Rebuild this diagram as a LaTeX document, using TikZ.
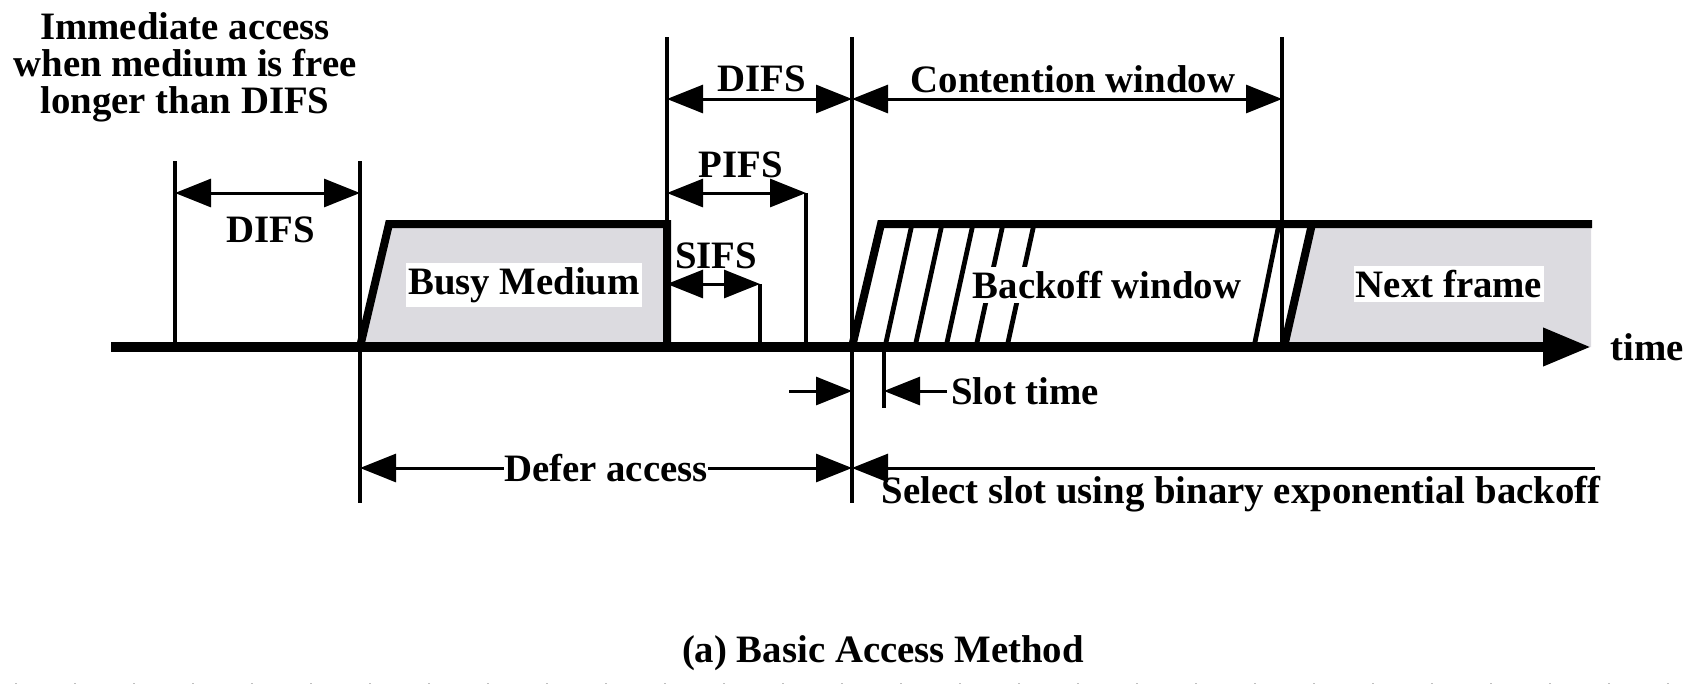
\documentclass[tikz,border=0pt]{standalone}
\usepackage{fontspec}
\setmainfont{Liberation Serif}
\usetikzlibrary{arrows.meta,positioning}
\definecolor{busygray}{RGB}{220,219,224}

\begin{document}
\begin{tikzpicture}[x=0.5pt,y=-0.5pt]
\tikzstyle{lbl}=[font=\fontsize{19.4}{18.5}\selectfont\bfseries, inner sep=1pt]
\tikzstyle{boxed}=[lbl, fill=white, inner xsep=1pt, inner ysep=2pt]
\tikzstyle{vline}=[line width=1.8pt]
\tikzstyle{dim}=[line width=1.5pt, {Triangle[length=18pt,width=14pt]}-{Triangle[length=18pt,width=14pt]}]
\tikzstyle{onedim}=[line width=1.5pt, -{Triangle[length=18pt,width=14pt]}]
\tikzstyle{frameline}=[line width=4pt, line join=miter]
\tikzstyle{hatch}=[line width=2.4pt]

  \useasboundingbox (0,0) rectangle (1688,686);

  % levels
  \coordinate (hi) at (0,37);
  \coordinate (cw) at (0,99);
  \coordinate (lo) at (0,161);
  \coordinate (pf) at (0,193);
  \coordinate (top) at (0,224);
  \coordinate (sf) at (0,284);
  \coordinate (sl) at (0,391);
  \coordinate (sb) at (0,408);
  \coordinate (df) at (0,468);
  \coordinate (bt) at (0,503);

  % marks on the time axis
  \coordinate (start) at (111,347);
  \coordinate (end) at (1591,347);
  \coordinate (t0) at (175,347);
  \coordinate (t1) at (360,347);
  \coordinate (t2) at (667,347);
  \coordinate (t3) at (760,347);
  \coordinate (t4) at (806,347);
  \coordinate (t5) at (852,347);
  \coordinate (t6) at (884,347);
  \coordinate (t7) at (1282,347);

  % busy medium
  \fill[busygray] (t1) -- (389,224) -- (t2 |- top) -- (t2) -- cycle;
  \draw[frameline] (t1) -- (389,224) -- (t2 |- top) -- (t2);

  % backoff window and next frame
  \fill[busygray] (1284,347) -- (1312,224) -- (1591,224) -- (end) -- cycle;
  \draw[frameline] (t5) -- (881,224) -- (1592,224);
  \foreach \x in {885,915,946,976,1007}
    \draw[hatch] (\x,347) -- (\x+27,224);
  \draw[hatch] (1254,347) -- (1279,224);
  \draw[frameline] (1284,347) -- (1312,224);

  % boundaries
  \draw[vline] (t0 |- lo) -- (t0);
  \draw[vline] (t1 |- lo) -- (t1 |- bt);
  \draw[vline] (t2 |- hi) -- (t2);
  \draw[vline] (t3 |- sf) -- (t3);
  \draw[vline] (t4 |- pf) -- (t4);
  \draw[vline] (t5 |- hi) -- (t5 |- bt);
  \draw[vline] (t6) -- (t6 |- sb);
  \draw[vline] (t7 |- hi) -- (t7);

  \draw[line width=5pt, -{Triangle[length=24pt,width=18pt]}] (start) -- (end);
  \node[lbl, right=8.5pt of end] (time) {time};

  % intervals
  \path (t0 |- pf) edge [dim] (t1 |- pf)
        (t2 |- cw) edge [dim] (t5 |- cw)
        (t5 |- cw) edge [dim] (t7 |- cw)
        (t2 |- pf) edge [dim] (t4 |- pf)
        (t2 |- sf) edge [dim] (t3 |- sf);
  \node[lbl] (difs1) at (271,230) {DIFS};
  \node[lbl] (difs2) at (762,79) {DIFS};
  \node[lbl] (cwin) at (1073,79) {Contention window};
  \node[lbl] (pifs) at (741,165) {PIFS};
  \node[lbl] (sifs) at (716,256) {SIFS};

  \node[boxed] (busy) at (524,285) {Busy Medium};
  \node[boxed] (backoff) at (1107,285) {Backoff window};
  \node[boxed] (next) at (1449,284) {Next frame};

  % slot time
  \coordinate (slotL) at (789,391);
  \coordinate (slotR) at (947,391);
  \draw[onedim] (slotL) -- (t5 |- sl);
  \draw[onedim] (slotR) -- (t6 |- sl);
  \node[lbl, right=1pt of slotR] (slot) {Slot time};

  % defer access and slot selection
  \path (t1 |- df) edge [dim] node[lbl, fill=white, inner sep=0pt] (defer) {Defer access} (t5 |- df);
  \coordinate (selend) at (1595,468);
  \draw[onedim] (selend) -- (t5 |- df);
  \node[lbl, anchor=base] (select) at (1241,503) {Select slot using binary exponential backoff};

  \node[lbl, align=center] (imm) at (185,67) {Immediate access\\when medium is free\\longer than DIFS};
  \node[lbl] (caption) at (883,653) {(a) Basic Access Method};

  \draw[black!25, line width=0.5pt, dash pattern=on 1pt off 28.5pt] (15,683) -- (1688,683);
\end{tikzpicture}
\end{document}
